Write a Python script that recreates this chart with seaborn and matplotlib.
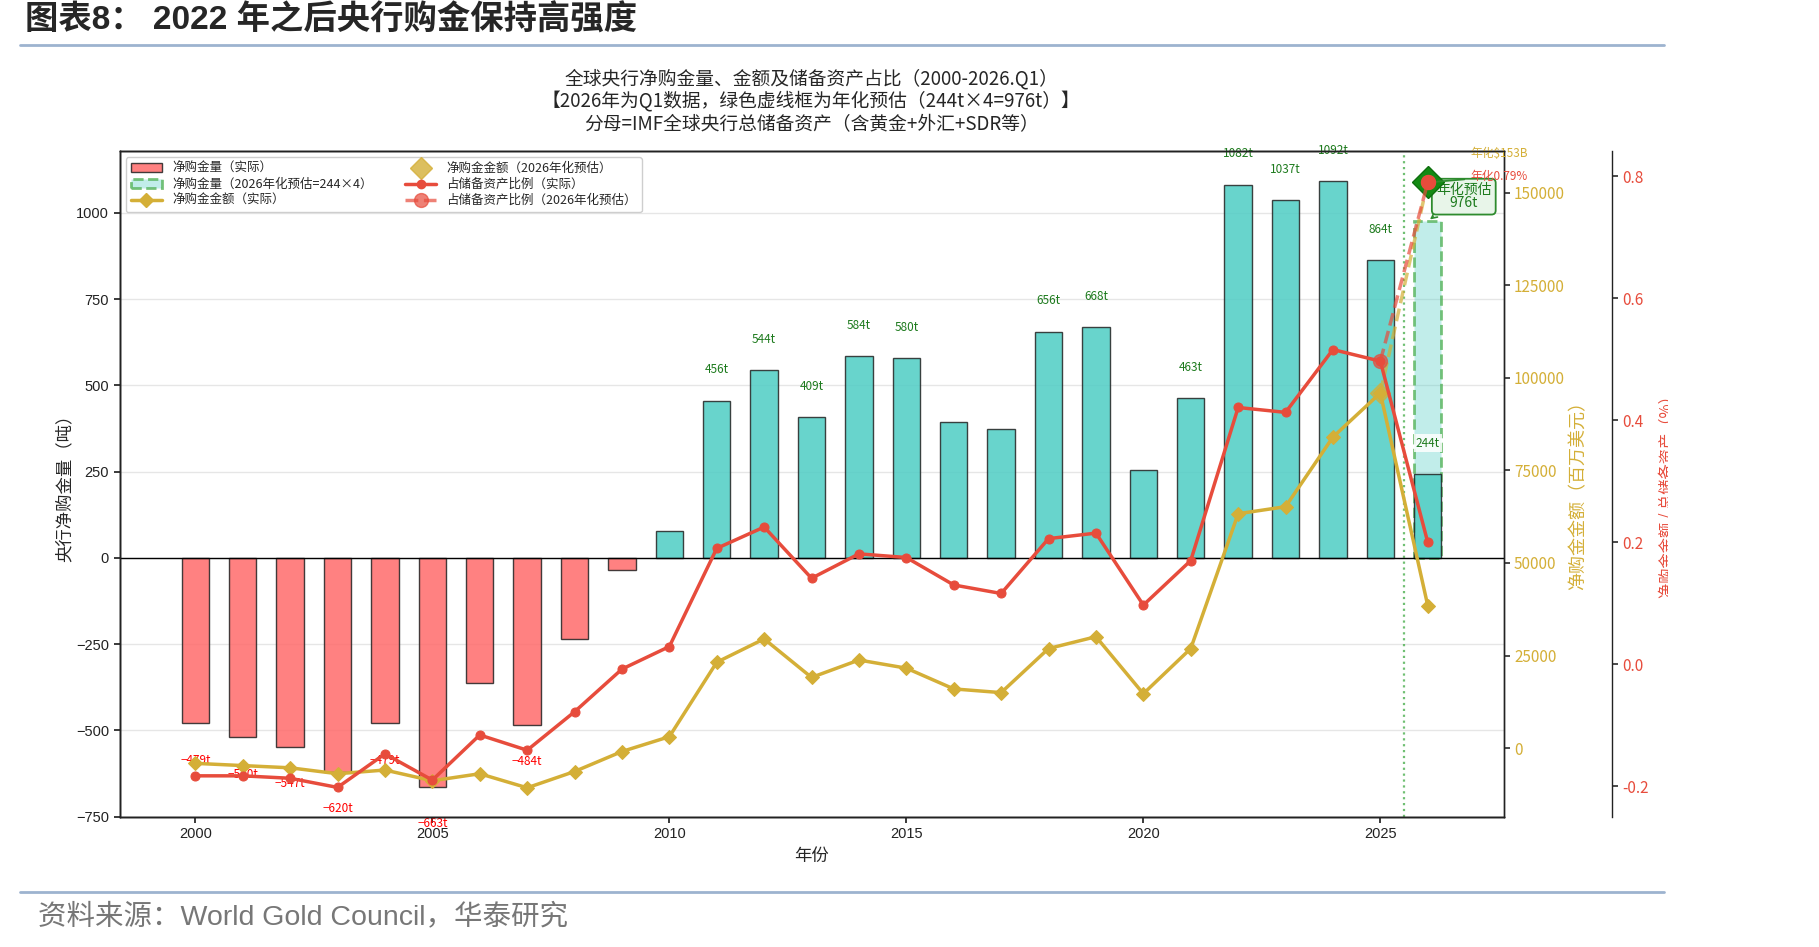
import matplotlib
matplotlib.use('Agg')
import matplotlib.pyplot as plt
import seaborn as sns
import numpy as np
import pandas as pd
from matplotlib.patches import Patch, Rectangle
from matplotlib.lines import Line2D
from matplotlib.ticker import FormatStrFormatter

# 数据
years = list(range(2000, 2027))
tonnes = [-479, -520, -547, -620, -479, -663, -363, -484, -235, -34,
          77, 456, 544, 409, 584, 580, 394, 373, 656, 668,
          256, 463, 1082, 1037, 1092, 864, 244]
amount_musd = [-4100, -4700, -5300, -6900, -5900, -8800, -6900, -10700, -6300, -900,
               3100, 23200, 29500, 19100, 23800, 21600, 16000, 15000, 26900, 30100,
               14700, 26900, 63300, 65200, 84000, 95900, 38500]
reserve_pct = [-0.183, -0.183, -0.187, -0.202, -0.147, -0.190, -0.116, -0.141, -0.078, -0.008,
               0.029, 0.190, 0.225, 0.141, 0.181, 0.175, 0.130, 0.116, 0.206, 0.215,
               0.097, 0.170, 0.421, 0.413, 0.516, 0.497, 0.200]
est_year = 2026
est_tonnes = 976
est_amount = 153000
est_pct = 0.79

left_ticks = [-750, -500, -250, 0, 250, 500, 750, 1000]
amount_ticks = [0, 25000, 50000, 75000, 100000, 125000, 150000]
pct_ticks = [-0.2, 0.0, 0.2, 0.4, 0.6, 0.8]
x_ticks = [2000, 2005, 2010, 2015, 2020, 2025]

TEAL = '#4ECDC4'
RED_BAR = '#FF6B6B'
GOLD = '#D4AF37'
RED = '#E74C3C'
GREEN_TXT = '#1E7B1E'

sns.set_theme(style='ticks')
plt.rcParams['font.family'] = ['Noto Sans CJK SC', 'DejaVu Sans']
plt.rcParams['axes.unicode_minus'] = True

fig = plt.figure(figsize=(18.19, 9.47), dpi=100)
fig.patch.set_facecolor('white')
ax = fig.add_axes([0.0657, 0.1376, 0.7609, 0.7032])
ax2 = ax.twinx()
ax3 = ax.twinx()
ax3.spines['right'].set_position(('outward', 78))

# 柱状图：净购金量
df = pd.DataFrame({'year': years, 'tonnes': tonnes})
df['sign'] = np.where(df['tonnes'] < 0, 'neg', 'pos')

# 2026 年化预估柱（虚线框）
ax.bar(est_year, est_tonnes, width=0.58,
       facecolor=(78 / 255, 205 / 255, 196 / 255, 0.35),
       edgecolor=(76 / 255, 175 / 255, 80 / 255, 0.75),
       linestyle='--', linewidth=2, zorder=2)

sns.barplot(data=df, x='year', y='tonnes', hue='sign',
            palette={'neg': RED_BAR, 'pos': TEAL}, native_scale=True, saturation=1,
            dodge=False, width=0.58, errorbar=None, legend=False,
            alpha=0.85, edgecolor='#222222', linewidth=1, ax=ax, zorder=3)

ax.axhline(0, color='black', lw=1, zorder=4)
ax.axvline(2025.5, color='#4CAF50', ls=':', lw=1.6, alpha=0.8, zorder=1)

for y, v in zip(years, tonnes):
    lab = f'{v}t'.replace('-', '−')
    if y == est_year:
        ax.text(y, v + 70, lab, ha='center', va='bottom', fontsize=8.5, color=GREEN_TXT,
                bbox=dict(facecolor='white', edgecolor='none', pad=1.5, alpha=0.85), zorder=6)
    elif v >= 400:
        ax.text(y, v + 70, lab, ha='center', va='bottom', fontsize=8.5, color=GREEN_TXT)
    elif v <= -400:
        ax.text(y, v - 88, lab, ha='center', va='top', fontsize=8.5, color='red', clip_on=False)

ax.annotate('年化预估\n976t', xy=(est_year, est_tonnes), xytext=(2026.76, 1047),
            ha='center', va='center', fontsize=10, color=GREEN_TXT, linespacing=0.95,
            bbox=dict(boxstyle='round,pad=0.3', facecolor='#E8F5E9', edgecolor='#2E8B2E', lw=1.3),
            arrowprops=dict(arrowstyle='->', color='#2E8B2E', lw=1.2, relpos=(0.1, 0)),
            zorder=7)

# 净购金金额
sns.lineplot(x=years, y=amount_musd, color=GOLD, marker='D', markersize=7,
             linewidth=2.5, markeredgecolor=GOLD, ax=ax2, zorder=5)
ax2.plot([years[-2], est_year], [amount_musd[-2], est_amount], ls='--', marker='D',
         markersize=10, color=GOLD, lw=2.5, alpha=0.7)
ax2.plot(est_year, est_amount, marker='D', markersize=16, color='#138A13',
         markeredgecolor='#0E6E0E', ls='none', zorder=6)
ax2.text(2026.9, 160500, '年化$153B', ha='left', va='center', fontsize=8.5, color=GOLD)

# 占储备资产比例
sns.lineplot(x=years, y=reserve_pct, color=RED, marker='o', markersize=6.5,
             linewidth=2.5, markeredgecolor=RED, ax=ax3, zorder=5)
ax3.plot([years[-2], est_year], [reserve_pct[-2], est_pct], ls='--', marker='o',
         markersize=10, color=RED, lw=2.5, alpha=0.7)
ax3.plot(est_year, est_pct, marker='o', markersize=10, color=RED, ls='none', zorder=7)
ax3.annotate('年化0.79%', xy=(est_year, est_pct), xytext=(2026.9, 0.80),
             ha='left', va='center', fontsize=8.5, color=RED,
             arrowprops=dict(arrowstyle='-', color='#2E8B2E', lw=1.3))

# 坐标轴
ax.set_xlim(1998.4, 2027.6)
ax.set_ylim(-750, 1180)
ax.set_xticks(x_ticks)
ax.set_xticklabels([str(t) for t in x_ticks])
ax.set_yticks(left_ticks)
ax.set_yticklabels([str(t).replace('-', '−') for t in left_ticks])
ax.grid(axis='y', color='#e6e6e6', lw=1)
ax.set_axisbelow(True)
ax.set_xlabel('年份', fontsize=12.5, labelpad=4)
ax.set_ylabel('央行净购金量（吨）', fontsize=12.5, labelpad=2)
ax.tick_params(axis='both', direction='out', length=4, labelsize=10.5, colors='#222222')
for lbl in ax.get_xticklabels() + ax.get_yticklabels():
    lbl.set_fontfamily(['Liberation Sans', 'DejaVu Sans'])

ax2.set_ylim(-18500, 161300)
ax2.set_yticks(amount_ticks)
ax2.set_yticklabels([str(t) for t in amount_ticks])
ax2.set_ylabel('')
ax2.tick_params(axis='y', direction='out', length=4, labelsize=11, labelcolor=GOLD, color='#333333')

ax3.set_ylim(-0.25, 0.842)
ax3.set_yticks(pct_ticks)
ax3.yaxis.set_major_formatter(FormatStrFormatter('%.1f'))
ax3.set_ylabel('')
ax3.tick_params(axis='y', direction='out', length=4, labelsize=11, labelcolor=RED, color='#333333')

for a in (ax, ax2, ax3):
    for s in a.spines.values():
        s.set_color('#222222')
        s.set_linewidth(1)
ax.set_xlim(1998.4, 2027.6)

fig.text(0.8675, 0.482, '净购金金额（百万美元）', rotation=90, ha='center', va='center',
         fontsize=13, color=GOLD)
fig.text(0.9165, 0.479, '净购金金额 / 总储备资产（%）', rotation=90, ha='center', va='center',
         fontsize=11, color=RED)
# 原图在此处被裁切
fig.add_artist(Rectangle((0.9172, 0.07), 0.09, 0.86, transform=fig.transFigure,
                         facecolor='white', edgecolor='none', zorder=20))

# 图例
handles = [
    Patch(facecolor=RED_BAR, alpha=0.85, edgecolor='#222222', label='净购金量（实际）'),
    Patch(facecolor=(78 / 255, 205 / 255, 196 / 255, 0.35), edgecolor=(76 / 255, 175 / 255, 80 / 255, 0.75),
          linestyle='--', linewidth=2, label='净购金量（2026年化预估=244×4）'),
    Line2D([], [], color=GOLD, marker='D', markersize=7, lw=2.5, label='净购金金额（实际）'),
    Line2D([], [], color=GOLD, marker='D', markersize=11, ls='none', alpha=0.8, label='净购金金额（2026年化预估）'),
    Line2D([], [], color=RED, marker='o', markersize=6, lw=2.5, label='占储备资产比例（实际）'),
    Line2D([], [], color=RED, marker='o', markersize=10, lw=2.5, ls='--', alpha=0.7, label='占储备资产比例（2026年化预估）'),
]
ax3.legend(handles=handles, loc='upper left', ncol=2, fontsize=9, frameon=True,
           framealpha=0.95, edgecolor='#cccccc', labelspacing=0.25, borderpad=0.4,
           handlelength=2.5, columnspacing=2.6)

# 标题与页眉页脚
fig.text(0.446, 0.892,
         '全球央行净购金量、金额及储备资产占比（2000-2026.Q1）\n'
         '【2026年为Q1数据，绿色虚线框为年化预估（244t×4=976t）】\n'
         '分母=IMF全球央行总储备资产（含黄金+外汇+SDR等）',
         ha='center', va='center', fontsize=13.5, linespacing=1.12)

fig.text(0.0135, 0.978, '图表8： 2022 年之后央行购金保持高强度', ha='left', va='center',
         fontsize=24, fontweight='bold', family=['Liberation Sans', 'Noto Sans CJK SC'])
fig.add_artist(Line2D([0.011, 0.915], [0.952, 0.952], color='#9DB3CF', lw=2, transform=fig.transFigure))
fig.add_artist(Line2D([0.011, 0.915], [0.0576, 0.0576], color='#9DB3CF', lw=2, transform=fig.transFigure))
fig.text(0.021, 0.032, '资料来源：World Gold Council，华泰研究', ha='left', va='center',
         fontsize=20.5, color='#777777', family=['Liberation Sans', 'Noto Sans CJK SC'])

plt.savefig('out.png', dpi=100, facecolor='white')
